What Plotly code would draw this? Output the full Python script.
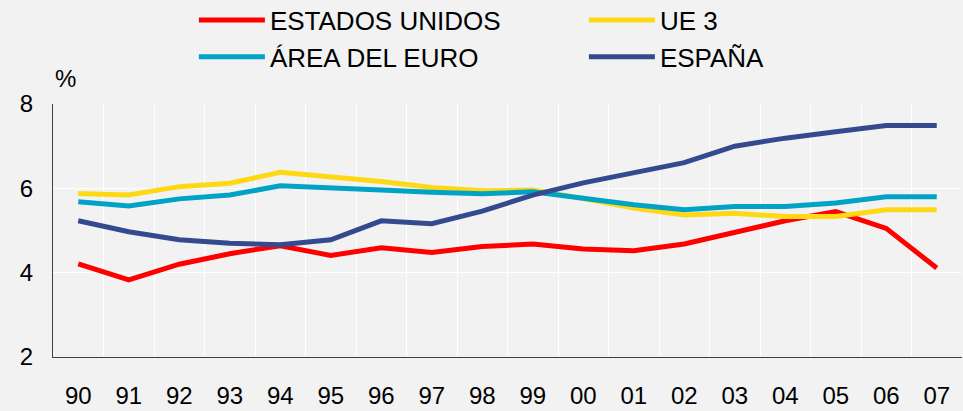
import plotly.graph_objects as go

years = ["90", "91", "92", "93", "94", "95", "96", "97", "98", "99",
         "00", "01", "02", "03", "04", "05", "06", "07"]

estados_unidos = [4.21, 3.83, 4.20, 4.45, 4.64, 4.41, 4.59, 4.48, 4.62, 4.68,
                  4.56, 4.52, 4.68, 4.95, 5.23, 5.45, 5.05, 4.11]
ue3 = [5.88, 5.84, 6.04, 6.12, 6.38, 6.28, 6.16, 6.02, 5.94, 5.96,
       5.76, 5.53, 5.37, 5.41, 5.33, 5.33, 5.49, 5.49]
area_euro = [5.68, 5.58, 5.75, 5.84, 6.06, 6.00, 5.96, 5.91, 5.87, 5.92,
             5.77, 5.61, 5.49, 5.57, 5.57, 5.65, 5.80, 5.80]
espana = [5.23, 4.97, 4.78, 4.70, 4.66, 4.78, 5.23, 5.16, 5.46, 5.84,
          6.13, 6.36, 6.61, 7.00, 7.19, 7.34, 7.49, 7.49]

series = [
    ("ESTADOS UNIDOS", estados_unidos, "#FF0000"),
    ("UE 3", ue3, "#FFD815"),
    ("ÁREA DEL EURO", area_euro, "#00A3C6"),
    ("ESPAÑA", espana, "#334A8E"),
]

FONT = "Liberation Sans, Arial, sans-serif"
BG = "#F2F2F2"

fig = go.Figure()
for name, vals, color in series:
    fig.add_trace(go.Scatter(
        x=years, y=vals, mode="lines", name=name,
        line=dict(color=color, width=5),
    ))

fig.update_layout(
    width=963, height=411,
    paper_bgcolor=BG, plot_bgcolor=BG,
    margin=dict(l=53, r=1, t=104, b=54, autoexpand=False),
    font=dict(family=FONT, size=24, color="#000000"),
    showlegend=True,
    legend=dict(
        orientation="h",
        x=0.155, y=1.425, xanchor="left", yanchor="top",
        entrywidth=309, entrywidthmode="pixels",
        itemwidth=66,
        bgcolor="rgba(0,0,0,0)",
        font=dict(family=FONT, size=26, color="#000000"),
        traceorder="normal",
    ),
    xaxis=dict(
        type="category",
        tickson="boundaries",
        showgrid=True, gridcolor="#FFFFFF", gridwidth=1,
        showline=True, linecolor="#404040", linewidth=1,
        ticks="", ticklabelstandoff=17,
        tickfont=dict(family=FONT, size=24, color="#000000"),
        range=[-0.5, 17.5],
        zeroline=False,
    ),
    yaxis=dict(
        range=[2, 8],
        tickvals=[2, 4, 6, 8],
        showgrid=True, gridcolor="#FFFFFF", gridwidth=1,
        showline=True, linecolor="#404040", linewidth=1,
        ticks="", ticklabelstandoff=14,
        tickfont=dict(family=FONT, size=24, color="#000000"),
        zeroline=False,
    ),
    annotations=[dict(
        text="%", x=0, y=1.04, xref="paper", yref="paper",
        xanchor="left", yanchor="bottom", showarrow=False,
        font=dict(family=FONT, size=24, color="#000000"),
    )],
)

fig.write_html(
    "out.html",
    config={"displayModeBar": False},
    post_script="document.body.style.margin='0';"
                "document.body.style.background='#F2F2F2';"
                "document.body.style.overflow='hidden';",
)
